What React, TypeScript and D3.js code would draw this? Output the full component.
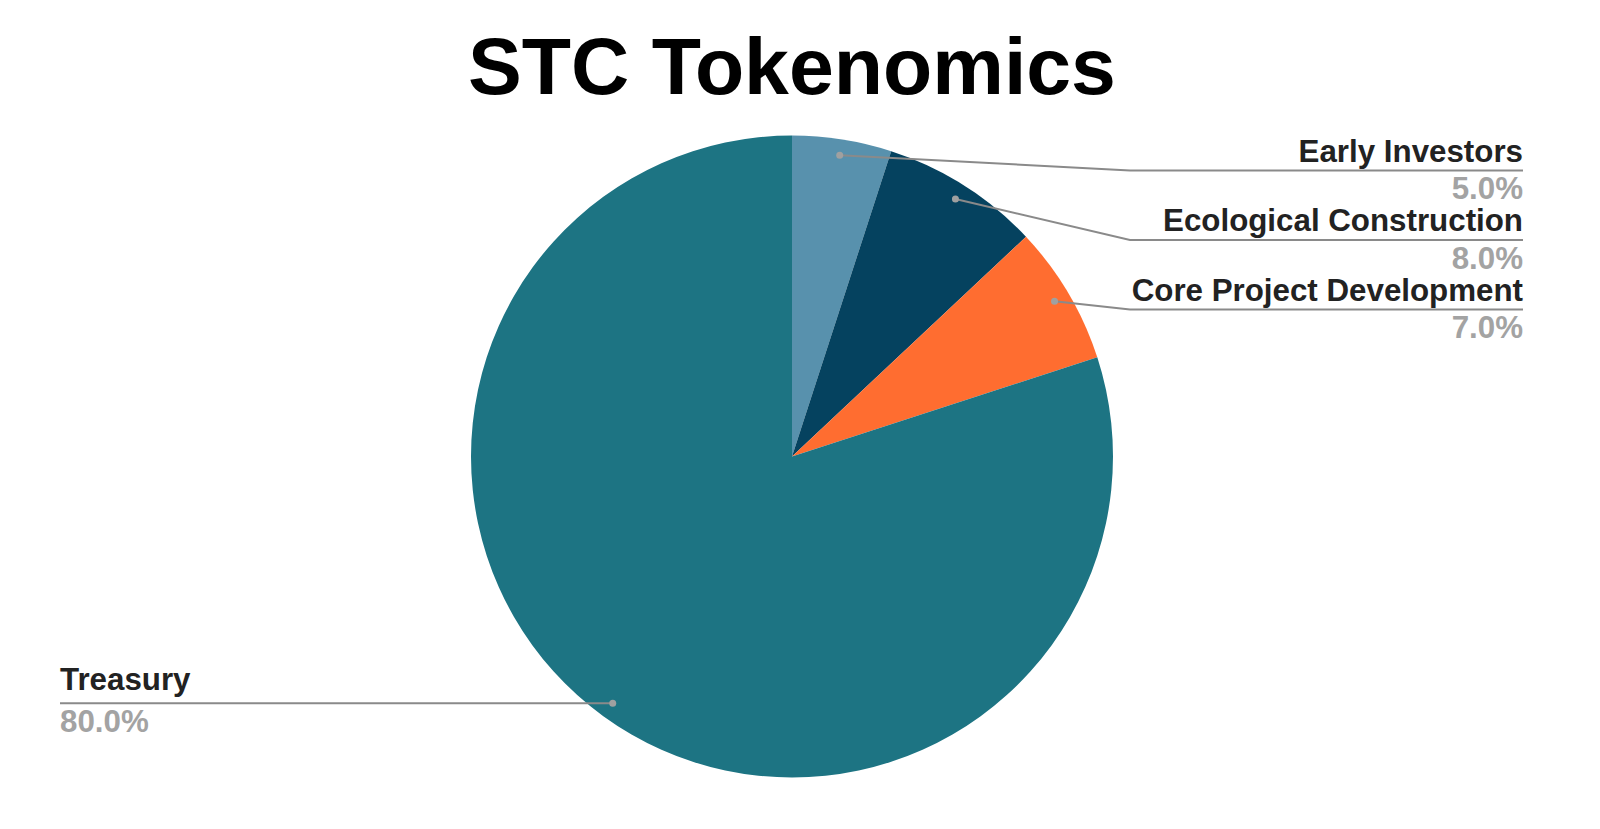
import React from "react";
import * as d3 from "d3";

const title = "STC Tokenomics";
const categories = ["Early Investors", "Ecological Construction", "Core Project Development", "Treasury"];
const values = [5, 8, 7, 80];
const colors = ["#5891ad", "#05425f", "#ff6d30", "#1d7483"];

const W = 1600;
const H = 829;
const cx = 792;
const cy = 456.5;
const R = 321;
const anchorR = 305;
const FONT = "'Liberation Sans', Arial, sans-serif";
const LFS = 31.3;

export default function App() {
  const total = d3.sum(values);
  const pie = d3.pie<number>().sort(null).value((d) => d);
  const arcs = pie(values);
  const arc = d3.arc<d3.PieArcDatum<number>>().innerRadius(0).outerRadius(R);
  const anchorArc = d3.arc<d3.PieArcDatum<number>>().innerRadius(anchorR).outerRadius(anchorR);

  const rightX = 1523;
  const elbowX = 1130;
  const rightUnderlineY = d3.scaleLinear().domain([0, 1]).range([170.5, 240]);
  const leftX = 60;

  const fmt = (v: number) => `${((v / total) * 100).toFixed(1)}%`;

  return (
    <svg width={W} height={H} style={{ position: "absolute", left: 0, top: 0, background: "#fff" }}>
      <rect width={W} height={H} fill="#fff" />
      <text x={cx} y={94} textAnchor="middle" fontFamily={FONT} fontWeight="bold" fontSize={80.6} fill="#000">
        {title}
      </text>
      <g transform={`translate(${cx},${cy})`}>
        {arcs.map((a, i) => (
          <path key={i} d={arc(a) || ""} fill={colors[i]} />
        ))}
      </g>
      {arcs.map((a, i) => {
        const [ax, ay] = anchorArc.centroid(a);
        const px = cx + ax;
        const py = cy + ay;
        const mid = (a.startAngle + a.endAngle) / 2;
        const isRight = mid < Math.PI;
        if (isRight) {
          const uy = rightUnderlineY(i);
          return (
            <g key={i}>
              <polyline
                points={`${px},${py} ${elbowX},${uy} ${rightX},${uy}`}
                fill="none"
                stroke="#8a8a8a"
                strokeWidth={2}
              />
              <circle cx={px} cy={py} r={3.5} fill="#a0a0a0" />
              <text x={rightX} y={uy - 9} textAnchor="end" fontFamily={FONT} fontWeight="bold" fontSize={LFS} fill="#222">
                {categories[i]}
              </text>
              <text x={rightX} y={uy + 28.5} textAnchor="end" fontFamily={FONT} fontWeight="bold" fontSize={LFS} fill="#a3a3a3">
                {fmt(values[i])}
              </text>
            </g>
          );
        }
        const uy = py;
        return (
          <g key={i}>
            <line x1={leftX} y1={uy} x2={px} y2={py} stroke="#8a8a8a" strokeWidth={2} />
            <circle cx={px} cy={py} r={3.5} fill="#a0a0a0" />
            <text x={leftX} y={uy - 13.5} textAnchor="start" fontFamily={FONT} fontWeight="bold" fontSize={LFS} fill="#222">
              {categories[i]}
            </text>
            <text x={leftX} y={uy + 29} textAnchor="start" fontFamily={FONT} fontWeight="bold" fontSize={LFS} fill="#a3a3a3">
              {fmt(values[i])}
            </text>
          </g>
        );
      })}
    </svg>
  );
}
